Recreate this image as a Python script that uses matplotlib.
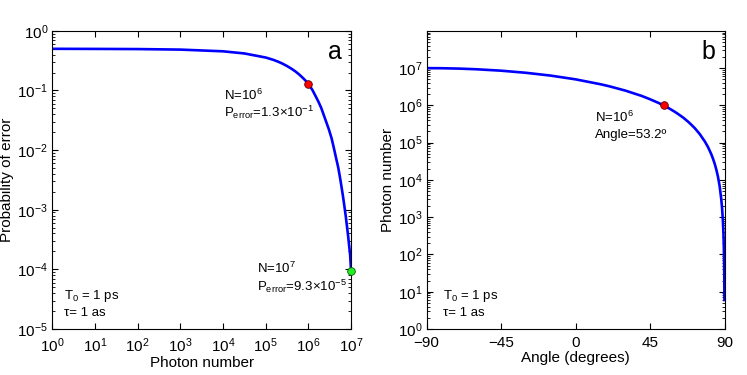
import matplotlib
matplotlib.use('Agg')
import matplotlib.pyplot as plt
from matplotlib.transforms import IdentityTransform

plt.rcParams['font.family'] = ['Liberation Sans', 'DejaVu Sans']
plt.rcParams['mathtext.fontset'] = 'custom'
plt.rcParams['mathtext.rm'] = 'Liberation Sans'
plt.rcParams['mathtext.it'] = 'Liberation Sans:italic'
plt.rcParams['mathtext.bf'] = 'Liberation Sans:bold'

# panel a: probability of error vs photon number
n_photons = [1, 10, 100, 1e3, 1e4, 3.16e4, 1e5, 1.5e5, 2e5, 2.5e5, 3.16e5, 4e5, 5e5, 6e5,
             7e5, 8e5, 1e6, 1.25e6, 1.5e6, 1.75e6, 2e6, 2.5e6, 3e6, 3.5e6, 4e6, 4.5e6,
             5e6, 5.5e6, 6e6, 6.5e6, 7e6, 7.5e6, 8e6, 8.5e6, 9e6, 9.5e6, 1e7]
p_error = [0.5, 0.498, 0.495, 0.485, 0.454, 0.418, 0.357, 0.327, 0.302, 0.281, 0.257, 0.232,
           0.208, 0.187, 0.169, 0.154, 0.13, 0.101, 0.0785, 0.0630, 0.0508, 0.0325, 0.0225,
           0.0157, 0.0104, 0.0071, 0.0051, 0.00347, 0.00236, 0.00163, 0.00112, 0.00078,
           0.00053, 0.00037, 0.00025, 0.000175, 9.3e-5]

# panel b: photon number vs angle
angle = [-90, -80, -70, -60, -45, -30, -15, 0, 15, 20, 30, 40, 45, 50, 53.2, 57, 60, 62,
         65, 68, 70, 72, 75, 77, 78, 80, 82, 83, 84, 85, 86, 87, 88, 88.5, 89, 89.3,
         89.5, 89.65, 89.8, 89.9]
n_angle = [1e7, 9.92e6, 9.7e6, 9.33e6, 8.54e6, 7.5e6, 6.3e6, 5e6, 3.7e6, 3.29e6, 2.5e6,
           1.79e6, 1.46e6, 1.17e6, 1e6, 8.07e5, 6.7e5, 5.85e5, 4.7e5, 3.64e5, 3.0e5,
           2.45e5, 1.7e5, 1.26e5, 1.09e5, 7.6e4, 4.86e4, 3.7e4, 2.74e4, 1.9e4, 1.22e4,
           6.9e3, 3.0e3, 1710, 760, 373, 190, 93, 30, 6]

fig = plt.figure(figsize=(7.47, 3.75), dpi=100)
ax1 = fig.add_axes([0.070, 0.1227, 0.400, 0.795])
ax2 = fig.add_axes([0.571, 0.1227, 0.399, 0.795])

def label_px(ax, x, y, s, size=9.5):
    # place text by pixel position measured from the top-left corner
    ax.text(x, 375 - y, s, transform=IdentityTransform(), fontsize=size, va='center')

# ---- a ----
ax1.plot(n_photons, p_error, color='#0000ff', lw=1.9)
ax1.plot(1e6, 0.13, 'o', color='red', mec='#600000', ms=5.5, mew=0.6)
ax1.plot(1e7, 9.3e-5, 'o', color='#22ee22', mec='#006000', ms=5.5, mew=0.6, clip_on=False, zorder=5)
ax1.set_xscale('log')
ax1.set_yscale('log')
ax1.set_xlim(1, 1e7)
ax1.set_ylim(1e-5, 1)
ax1.set_xticks([10.0**k for k in range(8)])
ax1.set_yticks([10.0**k for k in range(-5, 1)])
ax1.set_xlabel('Photon number', fontsize=11, labelpad=1)
ax1.set_ylabel('Probability of error', fontsize=11, labelpad=2)
ax1.text(0.97, 0.93, 'a', transform=ax1.transAxes, fontsize=18, ha='right', va='center')
label_px(ax1, 224, 95, 'N=10$^{6}$')
label_px(ax1, 224, 112, 'P$_{\\mathrm{error}}$=1.3\u00d710$^{-1}$')
label_px(ax1, 257, 268, 'N=10$^{7}$')
label_px(ax1, 257, 286, 'P$_{\\mathrm{error}}$=9.3\u00d710$^{-5}$')
label_px(ax1, 64, 296, 'T$_0$ = 1 ps')
label_px(ax1, 64, 313, '\u03c4= 1 as')

# ---- b ----
ax2.plot(angle, n_angle, color='#0000ff', lw=1.9)
ax2.plot(53.2, 1e6, 'o', color='red', mec='#600000', ms=5.5, mew=0.6)
ax2.set_yscale('log')
ax2.set_xlim(-90, 90)
ax2.set_ylim(1, 1e8)
ax2.set_xticks([-90, -45, 0, 45, 90])
ax2.set_xticklabels(['\u221290', '\u221245', '0', '45', '90'])
ax2.set_yticks([10.0**k for k in range(8)])
ax2.set_xlabel('Angle (degrees)', fontsize=11, labelpad=1)
ax2.set_ylabel('Photon number', fontsize=11, labelpad=2)
ax2.text(0.97, 0.93, 'b', transform=ax2.transAxes, fontsize=18, ha='right', va='center')
label_px(ax2, 595, 117, 'N=10$^{6}$')
label_px(ax2, 595, 135, 'Angle=53.2\u00ba')
label_px(ax2, 443, 296, 'T$_0$ = 1 ps')
label_px(ax2, 443, 313, '\u03c4= 1 as')

for ax in (ax1, ax2):
    ax.tick_params(which='both', direction='in', top=True, right=True, labelsize=11, pad=3)
    ax.tick_params(which='major', length=4)
    ax.tick_params(which='minor', length=2)
    ax.tick_params(axis='x', pad=5)
    for s in ax.spines.values():
        s.set_linewidth(0.8)
ax2.tick_params(axis='x', which='minor', bottom=False, top=False)

fig.savefig('out.png', dpi=100)
